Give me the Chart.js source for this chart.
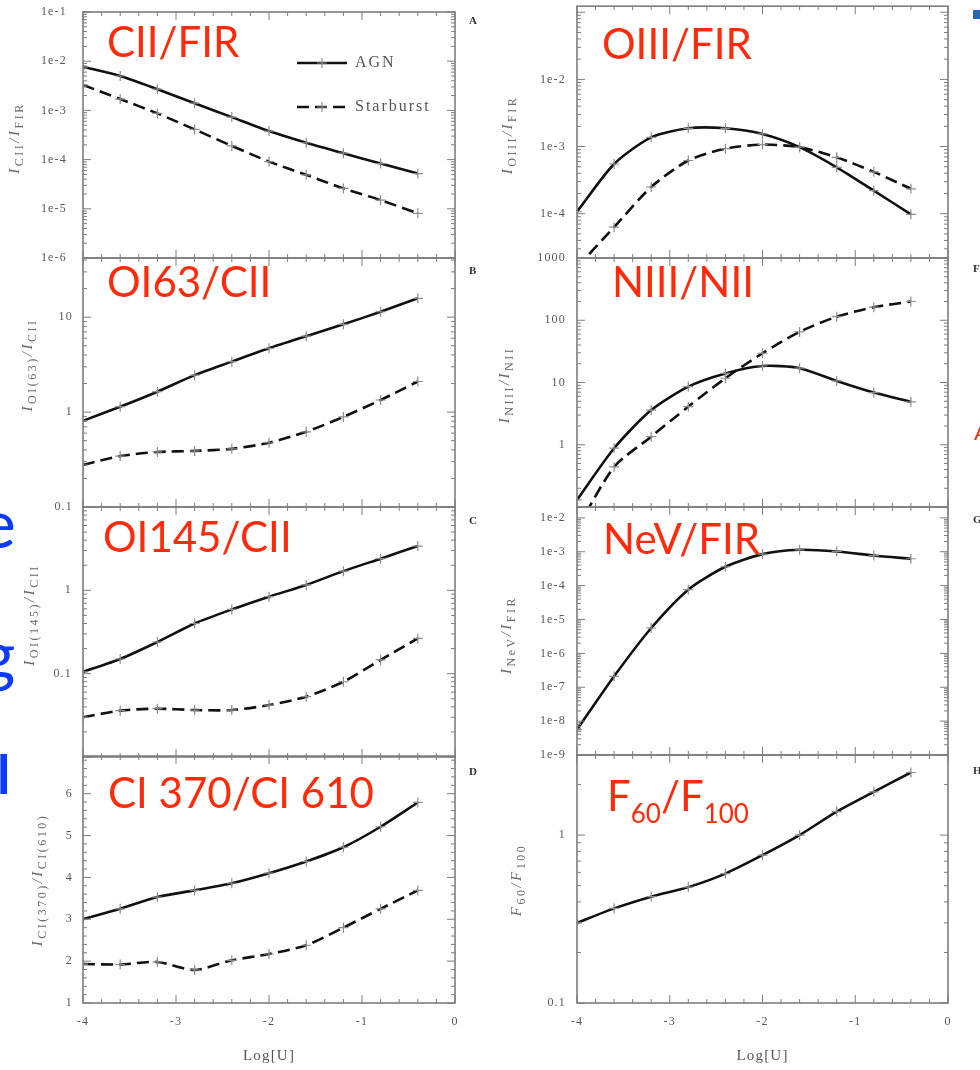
<!DOCTYPE html>
<html>
<head>
<meta charset="utf-8">
<title>Line ratios vs Log[U]</title>
<script src="https://cdn.jsdelivr.net/npm/chart.js@4.4.1/dist/chart.umd.min.js"></script>
<style>
  body { margin: 0; background: #fff; }
  #page { position: relative; width: 980px; height: 1070px; overflow: hidden; }
  canvas { position: absolute; top: 0; filter: blur(0.4px); }
  .red { position: absolute; color: #ff2a0a; font: 42px/42px Lato, sans-serif; white-space: nowrap; }
  .red sub { font-size: 26px; vertical-align: -12px; line-height: 0; }
  .blue { position: absolute; color: #0b3bff; font: 68px/68px Lato, sans-serif; }
  .tag { position: absolute; font: bold 11px 'Liberation Serif', serif; color: #333; }
</style>
</head>
<body>
<div id="page">
  <canvas id="ciiFir" width="470" height="1070" style="left:0"></canvas>
  <canvas id="oi63" width="470" height="1070" style="left:0"></canvas>
  <canvas id="oi145" width="470" height="1070" style="left:0"></canvas>
  <canvas id="ci370" width="470" height="1070" style="left:0"></canvas>
  <canvas id="oiiiFir" width="500" height="1070" style="left:480px"></canvas>
  <canvas id="niiiNii" width="500" height="1070" style="left:480px"></canvas>
  <canvas id="nevFir" width="500" height="1070" style="left:480px"></canvas>
  <canvas id="f60" width="500" height="1070" style="left:480px"></canvas>

  <div class="red" style="left:107px;top:20px">CII/FIR</div>
  <div class="red" style="left:107px;top:260px">OI63/CII</div>
  <div class="red" style="left:103px;top:515px">OI145/CII</div>
  <div class="red" style="left:108px;top:771px">CI 370/CI 610</div>
  <div class="red" style="left:602px;top:22px">OIII/FIR</div>
  <div class="red" style="left:612px;top:260px">NIII/NII</div>
  <div class="red" style="left:603px;top:517px">NeV/FIR</div>
  <div class="red" style="left:607px;top:774px">F<sub>60</sub>/F<sub>100</sub></div>

  <div class="blue" style="left:-20px;top:488px">e</div>
  <div class="blue" style="left:-20px;top:619px">g</div>
  <div class="blue" style="left:-3px;top:747px;font-size:54px;line-height:54px;font-weight:bold">l</div>

  <div class="tag" style="left:469px;top:14px">A</div>
  <div class="tag" style="left:469px;top:264px">B</div>
  <div class="tag" style="left:469px;top:514px">C</div>
  <div class="tag" style="left:469px;top:765px">D</div>
  <div style="position:absolute;left:973px;top:10px;width:8px;height:9px;background:#2b64b8"></div>
  <div class="tag" style="left:973px;top:262px">F</div>
  <div class="tag" style="left:973px;top:513px">G</div>
  <div class="tag" style="left:973px;top:764px">H</div>
  <div style="position:absolute;left:974px;top:418px;color:#ff2a0a;font:22px Lato,sans-serif">A</div>
</div>

<script>
// model grid in Log[U]
const logU = [-4, -3.6, -3.2, -2.8, -2.4, -2, -1.6, -1.2, -0.8, -0.4];
const xTicks = [-4, -3, -2, -1, 0];
const seriesNames = ['AGN', 'Starburst'];

// left column
const ciiFirAgn = [7.7e-3, 5.0e-3, 2.7e-3, 1.4e-3, 7.3e-4, 3.8e-4, 2.2e-4, 1.35e-4, 8.3e-5, 5.2e-5];
const ciiFirSb = [3.3e-3, 1.7e-3, 8.7e-4, 4.1e-4, 1.9e-4, 9.1e-5, 4.9e-5, 2.6e-5, 1.5e-5, 8.1e-6];
const oi63Agn = [0.81, 1.14, 1.64, 2.45, 3.4, 4.7, 6.3, 8.4, 11.4, 15.8];
const oi63Sb = [0.277, 0.344, 0.38, 0.39, 0.41, 0.475, 0.62, 0.89, 1.34, 2.1];
const oi145Agn = [0.105, 0.15, 0.24, 0.40, 0.59, 0.84, 1.16, 1.7, 2.4, 3.4];
const oi145Sb = [0.030, 0.036, 0.038, 0.0366, 0.0366, 0.042, 0.053, 0.08, 0.146, 0.265];
const ci370Agn = [3.0, 3.25, 3.53, 3.69, 3.86, 4.10, 4.38, 4.72, 5.21, 5.79];
const ci370Sb = [1.93, 1.92, 1.98, 1.79, 2.02, 2.17, 2.38, 2.80, 3.25, 3.69];

// right column
const oiiiFirAgn = [1.07e-4, 5.5e-4, 1.37e-3, 1.87e-3, 1.87e-3, 1.54e-3, 9.8e-4, 4.9e-4, 2.2e-4, 9.8e-5];
const oiiiFirSb = [1.6e-5, 6.3e-5, 2.5e-4, 6.2e-4, 9.3e-4, 1.07e-3, 9.8e-4, 6.9e-4, 4.2e-4, 2.35e-4];
const niiiNiiAgn = [0.13, 0.88, 3.6, 8.6, 14, 18.4, 17, 10.6, 6.9, 4.9];
const niiiNiiSb = [0.045, 0.44, 1.35, 4.1, 11.7, 29.5, 65, 114, 162, 200];
const nevFirAgn = [5.6e-9, 2.1e-7, 5.6e-6, 7.6e-5, 3.6e-4, 8.5e-4, 1.14e-3, 1.02e-3, 7.7e-4, 6.2e-4];
const f60f100Agn = [0.30, 0.366, 0.43, 0.49, 0.59, 0.76, 1.0, 1.38, 1.81, 2.36];

// labelled y ticks per panel
const ticksCiiFir = [1e-6, 1e-5, 1e-4, 1e-3, 1e-2, 1e-1];
const ticksOi63 = [0.1, 1, 10];
const ticksOi145 = [0.1, 1];
const ticksCi370 = [1, 2, 3, 4, 5, 6];
const ticksOiiiFir = [1e-4, 1e-3, 1e-2];
const ticksNiiiNii = [1, 10, 100, 1000];
const ticksNevFir = [1e-9, 1e-8, 1e-7, 1e-6, 1e-5, 1e-4, 1e-3, 1e-2];
const ticksF60 = [0.1, 1];

Chart.defaults.font.family = "'Liberation Serif', 'DejaVu Serif', serif";
Chart.defaults.color = '#555';

const COLS = {
  left: {left: 0, yW: 83, padR: 15},
  right: {left: 480, yW: 97, padR: 32}
};

// canvas state is reset on resize, so set the spacing before layout and before drawing
const spacing = {
  id: 'spacing',
  beforeUpdate(chart) { chart.ctx.letterSpacing = '1.2px'; },
  beforeDraw(chart) { chart.ctx.letterSpacing = '1.2px'; }
};

// box round the plot with inward ticks on all four sides
const frameTicks = {
  id: 'frameTicks',
  afterDatasetsDraw(chart) {
    const {ctx, chartArea: a, scales: {x, y}} = chart;
    ctx.save();
    ctx.strokeStyle = '#7d7d7d';
    ctx.lineWidth = 1;
    ctx.beginPath();
    const mark = (px, py, dx, dy) => { ctx.moveTo(px, py); ctx.lineTo(px + dx, py + dy); };
    for (let i = 0; i <= 20; i++) {
      const px = x.getPixelForValue(-4 + i * 0.2);
      const len = i % 5 ? 4 : 8;
      mark(px, a.bottom, 0, -len);
      mark(px, a.top, 0, len);
    }
    const marks = [];
    if (y.type === 'logarithmic') {
      for (let e = Math.floor(Math.log10(y.min)); e <= Math.ceil(Math.log10(y.max)); e++) {
        for (let k = 1; k < 10; k++) marks.push([k * Math.pow(10, e), k === 1]);
      }
    } else {
      for (let i = 0; y.min + i * 0.2 <= y.max + 1e-9; i++) marks.push([y.min + i * 0.2, i % 5 === 0]);
    }
    marks.forEach(([v, major]) => {
      const py = y.getPixelForValue(v);
      if (py < a.top - 0.5 || py > a.bottom + 0.5) return;
      const len = major ? 8 : 4;
      mark(a.left, py, len, 0);
      mark(a.right, py, -len, 0);
    });
    ctx.stroke();
    ctx.lineWidth = 1.6;
    ctx.strokeRect(a.left, a.top, a.right - a.left, a.bottom - a.top);
    ctx.restore();
  }
};

// rotated y title with subscripts
const yTitle = {
  id: 'yTitle',
  afterDraw(chart, args, opts) {
    const ctx = chart.ctx;
    const fonts = ["italic 15px 'Liberation Serif'", "12px 'Liberation Serif'"];
    ctx.save();
    ctx.letterSpacing = '2.5px';
    ctx.fillStyle = '#6a6a6a';
    ctx.translate(opts.x, opts.y);
    ctx.rotate(-Math.PI / 2);
    let w = 0;
    opts.parts.forEach(p => { ctx.font = fonts[p[1] ? 1 : 0]; w += ctx.measureText(p[0]).width; });
    let tx = -w / 2;
    opts.parts.forEach(p => {
      ctx.font = fonts[p[1] ? 1 : 0];
      ctx.fillText(p[0], tx, p[1] ? 8 : 4);
      tx += ctx.measureText(p[0]).width;
    });
    ctx.restore();
  }
};

// legend drawn inside the first panel, using the dataset styles
const insideLegend = {
  id: 'insideLegend',
  afterDraw(chart, args, opts) {
    if (!opts.rows) return;
    const ctx = chart.ctx;
    chart.data.datasets.forEach((ds, i) => {
      const y = opts.rows[i];
      ctx.save();
      ctx.strokeStyle = ds.borderColor;
      ctx.lineWidth = ds.borderWidth;
      ctx.setLineDash(ds.borderDash);
      ctx.beginPath();
      ctx.moveTo(opts.x0, y);
      ctx.lineTo(opts.x1, y);
      ctx.stroke();
      ctx.setLineDash([]);
      const cx = (opts.x0 + opts.x1) / 2;
      ctx.strokeStyle = ds.pointBorderColor;
      ctx.lineWidth = ds.pointBorderWidth;
      ctx.beginPath();
      ctx.moveTo(cx - ds.pointRadius, y); ctx.lineTo(cx + ds.pointRadius, y);
      ctx.moveTo(cx, y - ds.pointRadius); ctx.lineTo(cx, y + ds.pointRadius);
      ctx.stroke();
      ctx.letterSpacing = '2px';
      ctx.font = "16px 'Liberation Serif'";
      ctx.fillStyle = '#555';
      ctx.textBaseline = 'middle';
      ctx.fillText(ds.label, opts.tx, y);
      ctx.restore();
    });
  }
};

function sci(v) {
  return '1e' + Math.round(Math.log10(v));
}

function panel(id, o) {
  const col = COLS[o.col];
  const datasets = o.series.map((s, i) => ({
    label: seriesNames[i],
    data: logU.map((u, k) => ({x: u, y: s[k]})),
    borderColor: '#111',
    borderWidth: 2.6,
    borderDash: i ? [12, 6] : [],
    tension: 0.25,
    pointStyle: 'cross',
    pointRadius: 5,
    pointBorderWidth: 1.2,
    pointBorderColor: '#8c8c8c',
    pointBackgroundColor: '#8c8c8c'
  }));
  const zeroPad = s => { s.paddingLeft = s.paddingRight = s.paddingTop = s.paddingBottom = 0; };

  new Chart(document.getElementById(id), {
    type: 'line',
    data: {datasets},
    options: {
      responsive: false,
      animation: false,
      devicePixelRatio: 1,
      layout: {padding: {left: 0, top: o.top, right: col.padR, bottom: 0}},
      plugins: {
        legend: {display: false},
        tooltip: {enabled: false},
        yTitle: {x: o.titleX - col.left, y: o.titleY, parts: o.title},
        insideLegend: o.legend || {}
      },
      scales: {
        x: {
          type: 'linear', min: -4, max: 0,
          grid: {display: false, drawTicks: false},
          border: {display: false},
          ticks: {
            display: !!o.axis, stepSize: 1, padding: 12, autoSkip: false,
            font: {size: 12}, color: '#555',
            callback: v => xTicks.includes(v) ? String(v) : ''
          },
          title: {display: !!o.axis, text: 'Log[U]', font: {size: 15}, color: '#555', padding: {top: 0, bottom: 5}},
          afterFit: s => { s.height = 1070 - o.bottom; zeroPad(s); }
        },
        y: {
          type: o.linear ? 'linear' : 'logarithmic', min: o.min, max: o.max,
          grid: {display: false, drawTicks: false},
          border: {display: false},
          afterBuildTicks: s => { s.ticks = o.labels.map(v => ({value: v})); },
          ticks: {
            padding: o.labelPad, autoSkip: false, font: {size: 12}, color: '#555',
            callback: v => o.sci ? sci(v) : String(v)
          },
          afterFit: s => { s.width = col.yW; zeroPad(s); }
        }
      }
    },
    plugins: [spacing, frameTicks, yTitle, insideLegend]
  });
}

panel('ciiFir', {
  col: 'left', top: 12, bottom: 258, min: 1e-6, max: 1e-1, labels: ticksCiiFir, sci: true, labelPad: 16,
  series: [ciiFirAgn, ciiFirSb], titleX: 15, titleY: 138,
  title: [['I'], ['CII', 1], ['/'], ['I'], ['FIR', 1]],
  legend: {rows: [63, 107], x0: 297, x1: 347, tx: 355}
});
panel('oi63', {
  col: 'left', top: 258, bottom: 507, min: 0.1, max: 42, labels: ticksOi63, labelPad: 10,
  series: [oi63Agn, oi63Sb], titleX: 28, titleY: 365,
  title: [['I'], ['OI(63)', 1], ['/'], ['I'], ['CII', 1]]
});
panel('oi145', {
  col: 'left', top: 507, bottom: 757, min: 0.01, max: 10, labels: ticksOi145, labelPad: 11,
  series: [oi145Agn, oi145Sb], titleX: 30, titleY: 615,
  title: [['I'], ['OI(145)', 1], ['/'], ['I'], ['CII', 1]]
});
panel('ci370', {
  col: 'left', top: 756, bottom: 1003, min: 1, max: 6.9, linear: true, labels: ticksCi370, labelPad: 10,
  series: [ci370Agn, ci370Sb], titleX: 38, titleY: 880, axis: true,
  title: [['I'], ['CI(370)', 1], ['/'], ['I'], ['CI(610)', 1]]
});
panel('oiiiFir', {
  col: 'right', top: 5, bottom: 258, min: 2.19e-5, max: 0.123, labels: ticksOiiiFir, sci: true, labelPad: 11,
  series: [oiiiFirAgn, oiiiFirSb], titleX: 508, titleY: 135,
  title: [['I'], ['OIII', 1], ['/'], ['I'], ['FIR', 1]]
});
panel('niiiNii', {
  col: 'right', top: 258, bottom: 507, min: 0.1, max: 1000, labels: ticksNiiiNii, labelPad: 11,
  series: [niiiNiiAgn, niiiNiiSb], titleX: 505, titleY: 385,
  title: [['I'], ['NIII', 1], ['/'], ['I'], ['NII', 1]]
});
panel('nevFir', {
  col: 'right', top: 507, bottom: 755, min: 1e-9, max: 0.0209, labels: ticksNevFir, sci: true, labelPad: 11,
  series: [nevFirAgn], titleX: 507, titleY: 635,
  title: [['I'], ['NeV', 1], ['/'], ['I'], ['FIR', 1]]
});
panel('f60', {
  col: 'right', top: 755, bottom: 1003, min: 0.1, max: 3, labels: ticksF60, labelPad: 11,
  series: [f60f100Agn], titleX: 517, titleY: 880, axis: true,
  title: [['F'], ['60', 1], ['/'], ['F'], ['100', 1]]
});
</script>
</body>
</html>
